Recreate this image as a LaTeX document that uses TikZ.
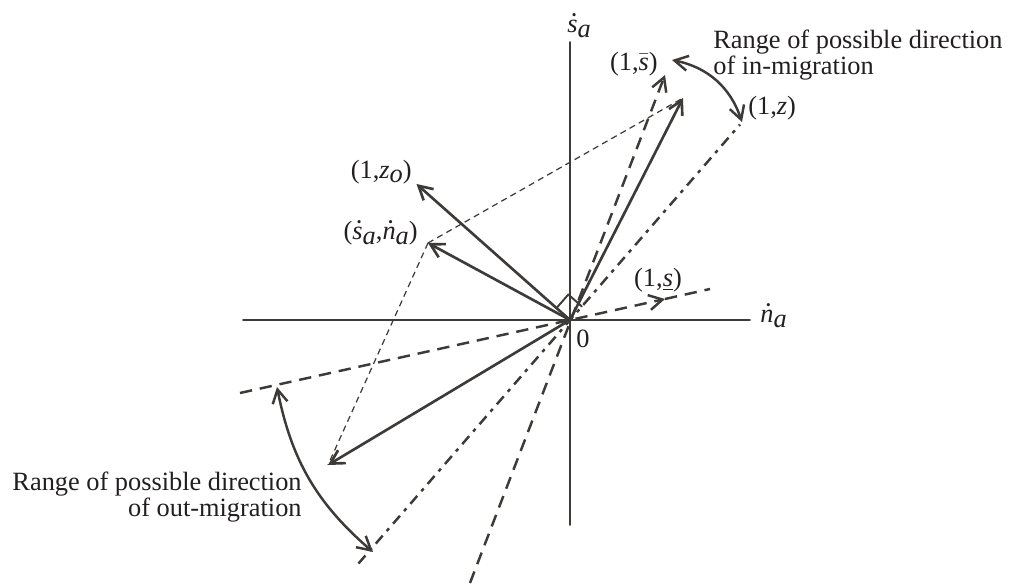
\documentclass[tikz,border=0pt]{standalone}
\usepackage{fontspec}
\setmainfont{Liberation Serif}
\usetikzlibrary{arrows.meta,calc}
\definecolor{ink}{RGB}{62,58,55}
\definecolor{textink}{RGB}{35,31,32}
\newcommand{\dotit}[1]{\ooalign{\itshape #1\cr\hidewidth\kern0.12em\raisebox{7.8pt}{\fontsize{7.5}{7.5}\selectfont\textbullet}\hidewidth\cr}}
\newcommand{\lo}[1]{\raisebox{-0.35ex}{\itshape #1}}

\begin{document}
\begin{tikzpicture}[line cap=round,line join=round,color=ink,
  font=\fontsize{15}{13.4}\selectfont,
  >={Straight Barb[length=2.7mm,width=3mm]},
  axis/.style={line width=1.1pt},
  vec/.style={line width=1.5pt,->},
  longdash/.style={line width=1.4pt,line cap=butt,dash pattern=on 7pt off 4.5pt},
  dashdot/.style={line width=1.4pt,line cap=butt,dash pattern=on 6pt off 3.5pt on 2pt off 3.5pt},
  thindash/.style={line width=0.7pt,line cap=butt,dash pattern=on 3.5pt off 2.5pt},
  rangearc/.style={line width=1.4pt,<->},
  lbl/.style={inner sep=0pt,text=textink}]
  \useasboundingbox (-11.4,-5.32) rectangle (8.82,6.4);
  \coordinate (O) at (0,0);
  \coordinate (Ytop) at (0,5.56);
  \coordinate (Ybot) at (0,-4.1);
  \coordinate (Xl) at (-6.54,0);
  \coordinate (Xr) at (3.6,0);
  \coordinate (Sbar) at (1.9,4.9);
  \coordinate (SbarEnd) at (-2.0,-5.26);
  \coordinate (Slow) at (1.9,0.42);
  \coordinate (SlowTop) at (2.8,0.62);
  \coordinate (SlowEnd) at (-6.6,-1.46);
  \coordinate (Z) at (3.4,3.91);
  \coordinate (ZEnd) at (-4.23,-4.87);
  \coordinate (Zo) at (-3.07,2.72);
  \coordinate (S) at (-2.84,1.54);
  \coordinate (In) at (2.26,4.44);
  \coordinate (Out) at (-4.84,-2.9);
  \coordinate (InA) at (2.04,5.2);
  \coordinate (InB) at (3.44,3.96);
  \coordinate (OutA) at (-5.86,-1.34);
  \coordinate (OutB) at (-3.94,-4.64);
  \coordinate (Ra) at ($(O)!0.36cm!(Z)$);
  \coordinate (Rb) at ($(O)!0.36cm!(Zo)$);
  % axes
  \draw[axis] (Xl) -- (Xr);
  \draw[axis] (Ybot) -- (Ytop);
  % directions
  \draw[longdash,->] (SbarEnd) -- (Sbar);
  \draw[longdash,->] (SlowEnd) -- (Slow);
  \draw[longdash] (Slow) -- (SlowTop);
  \draw[dashdot] (ZEnd) -- (Z);
  \draw[thindash] (S) -- (In);
  \draw[thindash] (S) -- (Out);
  \draw[vec] (O) -- (In);
  \draw[vec] (O) -- (Out);
  \draw[vec] (O) -- (Zo);
  \draw[vec] (O) -- (S);
  \draw[axis] (Ra) -- ($(Ra)+(Rb)$) -- (Rb);
  % ranges
  \draw[rangearc] (InA) to[bend left=30] (InB);
  \draw[rangearc] (OutA) to[bend right=19] (OutB);
  % labels
  \node[lbl,anchor=base west] (sa) at (-0.06,5.74) {\dotit{s}\lo{a}};
  \node[lbl,anchor=base west] (na) at (3.8,-0.06) {\dotit{n}\lo{a}};
  \node[lbl] (zero) at (0.26,-0.37) {0};
  \node[lbl,anchor=east] (lsbar) at (1.76,5.12) {(1,$\bar{\textit{s}}$)};
  \node[lbl] (ls) at (1.76,0.8) {(1,\underline{\textit{s}})};
  \node[lbl,anchor=west] (lz) at (3.56,4.24) {(1,\textit{z})};
  \node[lbl,anchor=east] (lzo) at (-3.16,2.96) {(1,\textit{z}\lo{o})};
  \node[lbl,anchor=base east] (lsn) at (-3.04,1.6) {(\dotit{s}\lo{a},\dotit{n}\lo{a})};
  \node[lbl,anchor=north west,align=left] (inrange) at (2.86,5.8) {Range of possible direction\\of in-migration};
  \node[lbl,anchor=north east,align=right] (outrange) at (-5.36,-3.04) {Range of possible direction\\of out-migration};
\end{tikzpicture}
\end{document}
